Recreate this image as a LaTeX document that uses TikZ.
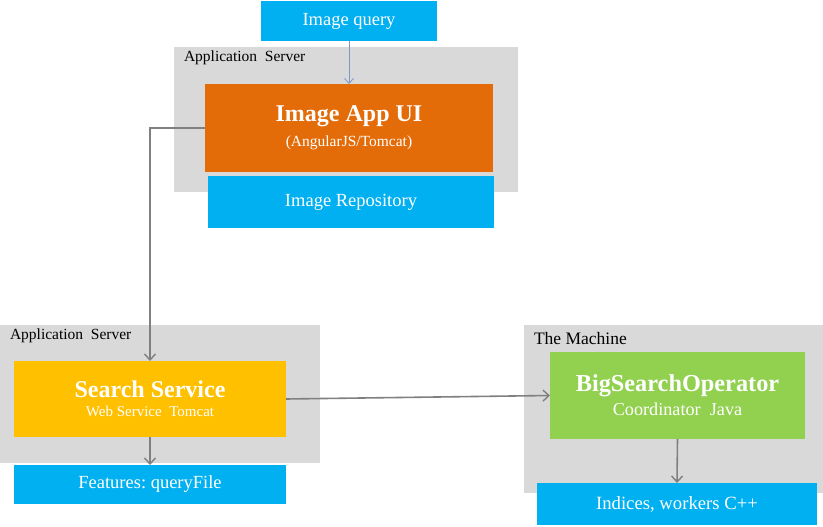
\documentclass[tikz,border=0pt]{standalone}
\usepackage{fontspec}
\setmainfont{Liberation Serif}
\usetikzlibrary{arrows.meta}
\definecolor{skyblue}{RGB}{0,176,240}
\definecolor{panelgray}{RGB}{217,217,217}
\definecolor{apporange}{RGB}{227,108,9}
\definecolor{svcyellow}{RGB}{255,192,0}
\definecolor{opgreen}{RGB}{146,208,80}
\definecolor{linkgray}{RGB}{128,128,128}
\definecolor{querylink}{RGB}{125,152,200}
\newcommand{\fsz}[1]{\fontsize{#1}{#1}\selectfont}

\begin{document}
\begin{tikzpicture}[x=1pt, y=-1pt,
    every node/.style={inner sep=0pt, outer sep=0pt},
    panel/.style={fill=panelgray},
    panellabel/.style={anchor=north west, font=\fsz{15.5}},
    box/.style={text=white, align=center},
    link/.style={draw=linkgray, line width=1.6pt, -{Straight Barb[length=6pt, width=11pt, line width=1.4pt]}}]
    \useasboundingbox (0,0) rectangle (823,527);

    % grey panels
    \fill[panel] (174,47) rectangle (518,192);
    \fill[panel] (0,325) rectangle (320,463);
    \fill[panel] (524,325) rectangle (823,493);
    \node[panellabel] (lbl1) at (184,51) {Application~ Server};
    \node[panellabel] (lbl2) at (10,329) {Application~ Server};
    \node[panellabel, font=\fsz{17.5}] (lbl3) at (534,332) {The Machine};

    % boxes
    \node[box, fill=skyblue, minimum width=176pt, minimum height=40pt, font=\fsz{18.5}] (query) at (349,21) {Image query};
    \node[box, fill=apporange, minimum width=288pt, minimum height=88pt] (app) at (349,128)
        {{\fsz{24}\bfseries Image App UI}\\[8pt]{\fsz{15.5}(AngularJS/Tomcat)}};
    \node[box, fill=skyblue, minimum width=286pt, minimum height=52pt, font=\fsz{18.5}] (repo) at (351,202) {Image Repository};

    \node[box, fill=svcyellow, minimum width=272pt, minimum height=76pt] (search) at (150,399)
        {{\fsz{24}\bfseries Search Service}\\[7pt]{\fsz{15}Web Service~ Tomcat}};
    \node[box, fill=skyblue, minimum width=272pt, minimum height=39pt, font=\fsz{18.5}] (feat) at (150,484.5) {Features:~queryFile};

    \node[box, fill=opgreen, minimum width=255pt, minimum height=87pt] (bso) at (677.5,395.5)
        {{\fsz{24.3}\bfseries BigSearchOperator}\\[5pt]{\fsz{18.2}Coordinator~ Java}};
    \node[box, fill=skyblue, minimum width=280pt, minimum height=42pt, font=\fsz{18.7}] (idx) at (677,504) {Indices, workers C++};

    % connectors
    \draw[draw=querylink, line width=0.9pt, -{Straight Barb[length=5pt, width=9pt, line width=0.8pt]}] (query.south) -- (app.north);
    \draw[link] (app.west) -| (search.north);
    \draw[link] (search.south) -- (feat.north);
    \draw[link] (search.east) -- (bso.west);
    \draw[link] (bso.south) -- (idx.north);
\end{tikzpicture}
\end{document}
